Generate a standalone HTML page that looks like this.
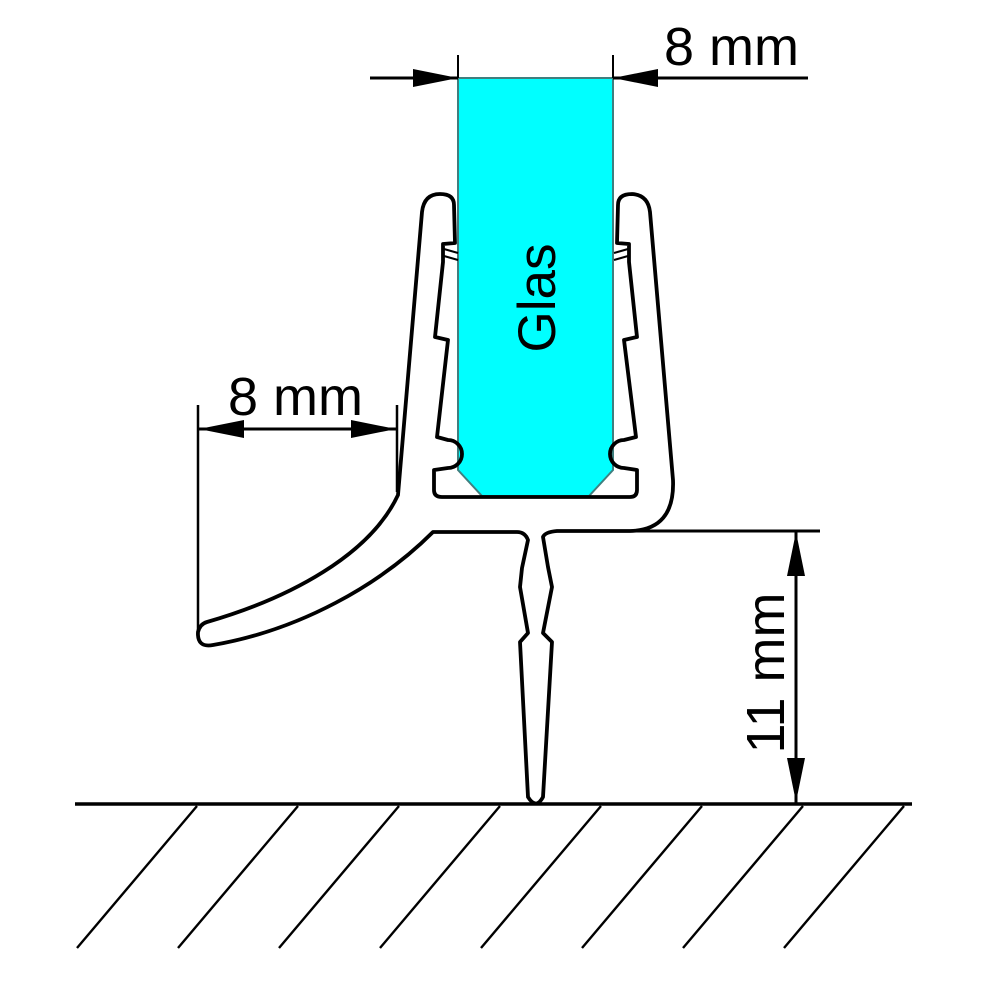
<!DOCTYPE html>
<html><head><meta charset="utf-8"><style>html,body{margin:0;padding:0;background:#fff}svg{display:block}</style></head>
<body>
<svg width="1000" height="1000" viewBox="0 0 1000 1000" xmlns="http://www.w3.org/2000/svg" font-family="Liberation Sans, Arial, sans-serif">
<rect width="1000" height="1000" fill="#fff"/>
<polygon points="458,78 613,78 613,470 589,496 482,496 458,470" fill="#00FFFF" stroke="#3f7f7f" stroke-width="2"/>
<text transform="translate(555,298) rotate(-90)" text-anchor="middle" font-size="53" fill="#000">Glas</text>
<path d="M207,622 C290,598 370,555 398,495 L422,212 Q424,194 440,194 Q454,194 454,205 L455,243 L443,244 L443,262 L435,337 L448,340 L437,437 L448,440 A14,14 0 0 1 448,468 L434,470 L434,490 Q434,497 442,497 L630,497 Q637,497 637,490 L637,470 L624,468 A14,14 0 0 1 624,440 L636,437 L624,340 L637,337 L629,262 L629,244 L617,243 L618,205 Q618,194 632,194 Q648,195 650,212 L673,480 Q675,530 630,531 L557,531 Q545,532 543,537 L548,567 L552,587 L543,633 L552,642 L543,797 Q536,810 528,797 L520,642 L528,633 L520,587 L522,568 L528,540 Q525,532 517,532 L433,532 C380,585 300,630 213,645 Q197,648 198,632 Q200,624 207,622 Z" fill="none" stroke="#000" stroke-width="3.8" stroke-linejoin="round"/>
<path d="M444,249 L458,253 M444,256 L458,260 M628,249 L614,253 M628,256 L614,260" stroke="#000" stroke-width="2"/>
<line x1="75" y1="804" x2="912" y2="804" stroke="#000" stroke-width="3.5"/>
<g stroke="#000" stroke-width="2.4">
<line x1="197" y1="806" x2="77" y2="948"/>
<line x1="298" y1="806" x2="178" y2="948"/>
<line x1="399" y1="806" x2="279" y2="948"/>
<line x1="500" y1="806" x2="380" y2="948"/>
<line x1="601" y1="806" x2="481" y2="948"/>
<line x1="702" y1="806" x2="582" y2="948"/>
<line x1="803" y1="806" x2="683" y2="948"/>
<line x1="904" y1="806" x2="784" y2="948"/>
</g>
<g stroke="#000" stroke-width="3">
<line x1="370" y1="78" x2="458" y2="78"/>
<line x1="613" y1="78" x2="808" y2="78"/>
<line x1="458" y1="55" x2="458" y2="78" stroke-width="2"/>
<line x1="613" y1="55" x2="613" y2="78" stroke-width="2"/>
</g>
<polygon points="458,78 413,69 413,87" fill="#000"/>
<polygon points="613,78 658,69 658,87" fill="#000"/>
<text x="664" y="65" font-size="54" fill="#000">8 mm</text>
<g stroke="#000" stroke-width="3">
<line x1="198" y1="429" x2="397" y2="429"/>
<line x1="198" y1="405" x2="198" y2="632" stroke-width="2.5"/>
<line x1="397" y1="405" x2="397" y2="492" stroke-width="2.5"/>
</g>
<polygon points="199,429 244,420 244,438" fill="#000"/>
<polygon points="396,429 351,420 351,438" fill="#000"/>
<text x="228" y="415" font-size="54" fill="#000">8 mm</text>
<g stroke="#000" stroke-width="3">
<line x1="630" y1="531" x2="820" y2="531"/>
<line x1="796" y1="531" x2="796" y2="803"/>
</g>
<polygon points="796,532 787,576 805,576" fill="#000"/>
<polygon points="796,802 787,758 805,758" fill="#000"/>
<text transform="translate(784,673) rotate(-90)" text-anchor="middle" font-size="54" fill="#000">11 mm</text>
</svg>
</body></html>
